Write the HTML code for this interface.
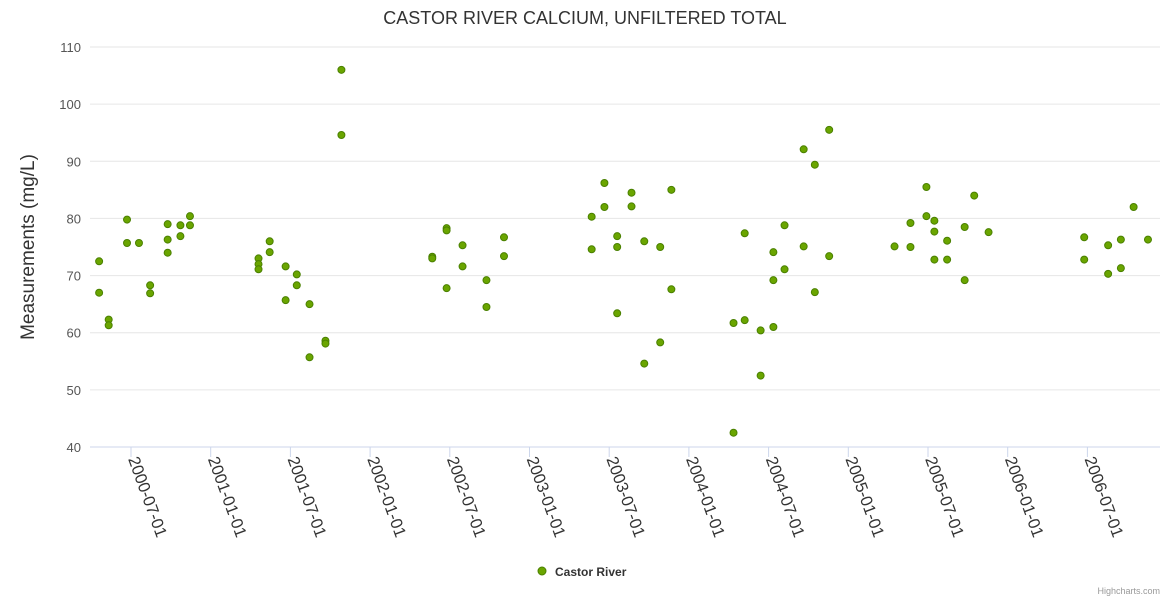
<!DOCTYPE html>
<html><head><meta charset="utf-8"><style>
body{margin:0;background:#fff;font-family:"Liberation Sans",sans-serif;}
svg text{font-family:"Liberation Sans",sans-serif;}
</style></head><body>
<svg id="chart" width="1170" height="600">
<text x="585" y="24" text-anchor="middle" font-size="18" fill="#333">CASTOR RIVER CALCIUM, UNFILTERED TOTAL</text>
<text transform="translate(34,247) rotate(-90)" text-anchor="middle" font-size="19" fill="#333">Measurements (mg/L)</text>
<g id="grid"></g><g id="xaxis"></g><g id="points"></g>
<g>
<circle cx="542" cy="571" r="4" fill="#6aa500" stroke="#4a8000" stroke-width="1"/>
<text x="555" y="576" font-size="12" font-weight="bold" fill="#333">Castor River</text>
</g>
<text x="1160" y="594" text-anchor="end" font-size="9" fill="#999">Highcharts.com</text>
</svg>
<script>
const yTicks=[40,50,60,70,80,90,100,110];
const xTickYears=[2000.5,2001,2001.5,2002,2002.5,2003,2003.5,2004,2004.5,2005,2005.5,2006,2006.5];
const xTickLabels=["2000-07-01","2001-01-01","2001-07-01","2002-01-01","2002-07-01","2003-01-01","2003-07-01","2004-01-01","2004-07-01","2005-01-01","2005-07-01","2006-01-01","2006-07-01"];
const dates=[2000.30,2000.30,2000.36,2000.36,2000.475,2000.475,2000.55,2000.62,2000.62,2000.73,2000.73,2000.73,2000.81,2000.81,2000.87,2000.87,
2001.30,2001.30,2001.30,2001.37,2001.37,2001.47,2001.47,2001.54,2001.54,2001.62,2001.62,2001.72,2001.72,2001.82,2001.82,
2002.39,2002.39,2002.48,2002.48,2002.48,2002.58,2002.58,2002.73,2002.73,2002.84,2002.84,
2003.39,2003.39,2003.47,2003.47,2003.55,2003.55,2003.55,2003.64,2003.64,2003.72,2003.72,2003.82,2003.82,2003.89,2003.89,
2004.28,2004.28,2004.35,2004.35,2004.45,2004.45,2004.53,2004.53,2004.53,2004.60,2004.60,2004.72,2004.72,2004.79,2004.79,2004.88,2004.88,
2005.29,2005.39,2005.39,2005.49,2005.49,2005.54,2005.54,2005.54,2005.62,2005.62,2005.73,2005.73,2005.79,2005.88,
2006.48,2006.48,2006.63,2006.63,2006.71,2006.71,2006.79,2006.88];
const values=[72.5,67,62.3,61.3,79.8,75.7,75.7,68.3,66.9,79,76.3,74,78.8,76.9,80.4,78.8,
73,72,71.1,76,74.1,71.6,65.7,70.2,68.3,65,55.7,58.6,58.1,106,94.6,
73.3,73,78.3,77.9,67.8,75.3,71.6,69.2,64.5,76.7,73.4,
80.3,74.6,86.2,82,76.9,75,63.4,84.5,82.1,76,54.6,75,58.3,85,67.6,
61.7,42.5,77.4,62.2,60.4,52.5,74.1,69.2,61,78.8,71.1,92.1,75.1,89.4,67.1,95.5,73.4,
75.1,79.2,75,85.5,80.4,79.6,77.7,72.8,76.1,72.8,78.5,69.2,84,77.6,
76.7,72.8,75.3,70.3,76.3,71.3,82,76.3];
const NS="http://www.w3.org/2000/svg";
const X=yr=>131+(yr-2000.5)*159.4;
const Y=v=>447-(v-40)*400/70;
const grid=document.getElementById('grid');
yTicks.forEach(t=>{
 const l=document.createElementNS(NS,'line');
 l.setAttribute('x1',90);l.setAttribute('x2',1160);l.setAttribute('y1',Y(t));l.setAttribute('y2',Y(t));
 l.setAttribute('stroke',t===40?'#ccd6eb':'#e6e6e6');l.setAttribute('stroke-width',1);
 
 
 grid.appendChild(l);
 const tx=document.createElementNS(NS,'text');
 tx.setAttribute('x',81);tx.setAttribute('y',Y(t)+5);tx.setAttribute('text-anchor','end');
 tx.setAttribute('font-size',13);tx.setAttribute('fill','#555');tx.textContent=t;
 
 
 grid.appendChild(tx);
});
const xa=document.getElementById('xaxis');
xTickYears.forEach((yr,i)=>{
 const x=X(yr);
 const l=document.createElementNS(NS,'line');
 l.setAttribute('x1',x);l.setAttribute('x2',x);l.setAttribute('y1',447);l.setAttribute('y2',457);
 l.setAttribute('stroke','#ccd6eb');
 
 
 xa.appendChild(l);
 const tx=document.createElementNS(NS,'text');
 tx.setAttribute('transform',`translate(${x-3},${459}) rotate(70)`);
 tx.setAttribute('font-size',16.5);tx.setAttribute('fill','#333');tx.textContent=xTickLabels[i];
 
 
 xa.appendChild(tx);
});
const pts=document.getElementById('points');
dates.forEach((d,i)=>{
 const c=document.createElementNS(NS,'circle');
 c.setAttribute('cx',X(d));c.setAttribute('cy',Y(values[i]));c.setAttribute('r',3.5);
 c.setAttribute('fill','#6aa500');c.setAttribute('stroke','#4a8000');c.setAttribute('stroke-width',1);
 
 
 pts.appendChild(c);
});
</script>
</body></html>
